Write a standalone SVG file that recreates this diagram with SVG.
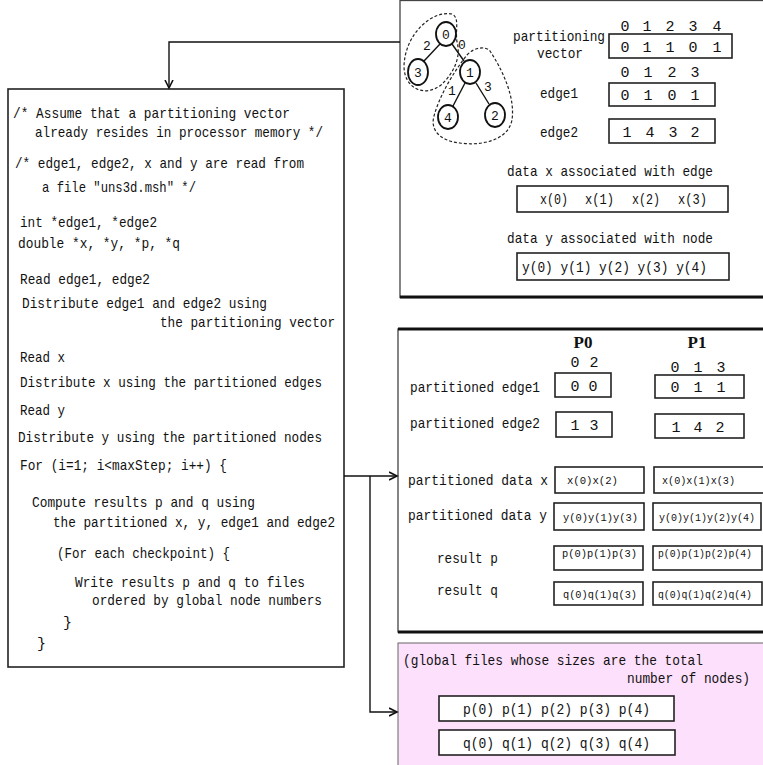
<svg xmlns="http://www.w3.org/2000/svg" width="763" height="765" viewBox="0 0 763 765">
<style>
.m{font-family:"Liberation Mono",monospace;font-size:15px;fill:#111}
.c{text-anchor:middle}
.e{text-anchor:end}
.s{font-family:"Liberation Mono",monospace;font-size:11px;fill:#111}
.t{font-family:"Liberation Mono",monospace;font-size:13px;fill:#111;text-anchor:middle}
.b{font-family:"Liberation Serif",serif;font-size:17px;font-weight:bold;fill:#111;text-anchor:middle}
.box{fill:#fff;stroke:#222;stroke-width:1.6}
.panel{fill:#fff;stroke:#444;stroke-width:1.3}
.thick{stroke:#111;stroke-width:3}
.node{fill:#fff;stroke:#111;stroke-width:1.8}
.dash{fill:none;stroke:#222;stroke-width:1.2;stroke-dasharray:3 2}
.wire{fill:none;stroke:#111;stroke-width:1.4}
</style>
<defs>
<marker id="arr" markerUnits="userSpaceOnUse" markerWidth="10" markerHeight="10" refX="8" refY="5" orient="auto">
<path d="M0,1 L8,5 L0,9" fill="none" stroke="#111" stroke-width="1.6"/>
</marker>
</defs>
<rect width="763" height="765" fill="#fff"/>

<g id="panel-vectors">
<rect class="panel" x="400" y="0.5" width="370" height="297"/>
<line class="thick" x1="400" y1="297" x2="763" y2="297"/>
<path class="dash" d="M452 14 C432 10,405 34,404 66 C404 88,424 98,441 85 C455 72,461 56,457 42 C455 30,460 18,452 14 Z"/>
<path class="dash" d="M467 55 C474 47,486 46,490 51 C505 74,515 99,512 120 C508 141,480 146,460 143 C440 141,430 130,434 116 C440 94,455 70,467 55 Z"/>
<line class="wire" x1="440" y1="44" x2="424" y2="61"/>
<line class="wire" x1="452" y1="44" x2="464" y2="61"/>
<line class="wire" x1="465" y1="83" x2="453" y2="106"/>
<line class="wire" x1="476" y1="83" x2="489" y2="104"/>
<ellipse class="node" cx="446" cy="34" rx="10" ry="12"/>
<ellipse class="node" cx="418" cy="72" rx="10" ry="13"/>
<ellipse class="node" cx="470" cy="72" rx="10" ry="12"/>
<ellipse class="node" cx="448" cy="117" rx="10" ry="12"/>
<ellipse class="node" cx="495" cy="115" rx="10" ry="12"/>
<text class="t" x="446" y="39">0</text>
<text class="t" x="418" y="77">3</text>
<text class="t" x="470" y="77">1</text>
<text class="t" x="448" y="122">4</text>
<text class="t" x="495" y="120">2</text>
<text class="t" x="427" y="50">2</text>
<text class="t" x="462" y="49">0</text>
<text class="t" x="452" y="95">1</text>
<text class="t" x="488" y="91">3</text>

<text class="m e" x="605" y="40.5" textLength="92" lengthAdjust="spacingAndGlyphs">partitioning</text>
<text class="m" x="537" y="57.5" textLength="46" lengthAdjust="spacingAndGlyphs">vector</text>
<text class="m c" x="625" y="31">0</text><text class="m c" x="647" y="31">1</text><text class="m c" x="670" y="31">2</text><text class="m c" x="693" y="31">3</text><text class="m c" x="717" y="31">4</text>
<rect class="box" x="609" y="34" width="123" height="24"/>
<text class="m c" x="625" y="52">0</text><text class="m c" x="647" y="52">1</text><text class="m c" x="670" y="52">1</text><text class="m c" x="693" y="52">0</text><text class="m c" x="717" y="52">1</text>

<text class="m c" x="625" y="77">0</text><text class="m c" x="648" y="77">1</text><text class="m c" x="672" y="77">2</text><text class="m c" x="695" y="77">3</text>
<text class="m" x="540" y="98" textLength="38" lengthAdjust="spacingAndGlyphs">edge1</text>
<rect class="box" x="609" y="83" width="106" height="23"/>
<text class="m c" x="625" y="100">0</text><text class="m c" x="648" y="100">1</text><text class="m c" x="672" y="100">0</text><text class="m c" x="695" y="100">1</text>

<text class="m" x="540" y="137" textLength="38" lengthAdjust="spacingAndGlyphs">edge2</text>
<rect class="box" x="609" y="119" width="106" height="24"/>
<text class="m c" x="627" y="137">1</text><text class="m c" x="650" y="137">4</text><text class="m c" x="673" y="137">3</text><text class="m c" x="695" y="137">2</text>

<text class="m e" x="713" y="176" textLength="206" lengthAdjust="spacingAndGlyphs">data x associated with edge</text>
<rect class="box" x="517" y="186" width="211" height="26"/>
<text class="m" x="540" y="204" textLength="28" lengthAdjust="spacingAndGlyphs">x(0)</text>
<text class="m" x="585" y="204" textLength="29" lengthAdjust="spacingAndGlyphs">x(1)</text>
<text class="m" x="632" y="204" textLength="28" lengthAdjust="spacingAndGlyphs">x(2)</text>
<text class="m" x="678" y="204" textLength="29" lengthAdjust="spacingAndGlyphs">x(3)</text>

<text class="m e" x="713" y="243" textLength="206" lengthAdjust="spacingAndGlyphs">data y associated with node</text>
<rect class="box" x="517" y="253" width="212" height="27"/>
<text class="m e" x="707" y="272" textLength="185" lengthAdjust="spacingAndGlyphs">y(0) y(1) y(2) y(3) y(4)</text>
</g>

<g id="panel-code">
<rect class="box" x="8" y="89" width="336" height="578"/>
<text class="m" x="13" y="118" textLength="277" lengthAdjust="spacingAndGlyphs">/* Assume that a partitioning vector</text>
<text class="m" x="35" y="137" textLength="288" lengthAdjust="spacingAndGlyphs">already resides in processor memory */</text>
<text class="m" x="15" y="168" textLength="289" lengthAdjust="spacingAndGlyphs">/* edge1, edge2, x and y are read from</text>
<text class="m" x="42" y="192" textLength="154" lengthAdjust="spacingAndGlyphs">a file "uns3d.msh" */</text>
<text class="m" x="20" y="227" textLength="137" lengthAdjust="spacingAndGlyphs">int *edge1, *edge2</text>
<text class="m" x="18" y="248" textLength="162" lengthAdjust="spacingAndGlyphs">double *x, *y, *p, *q</text>
<text class="m" x="20" y="284" textLength="130" lengthAdjust="spacingAndGlyphs">Read edge1, edge2</text>
<text class="m" x="22" y="308" textLength="245" lengthAdjust="spacingAndGlyphs">Distribute edge1 and edge2 using</text>
<text class="m" x="160" y="327" textLength="175" lengthAdjust="spacingAndGlyphs">the partitioning vector</text>
<text class="m" x="20" y="362" textLength="45" lengthAdjust="spacingAndGlyphs">Read x</text>
<text class="m" x="20" y="387" textLength="302" lengthAdjust="spacingAndGlyphs">Distribute x using the partitioned edges</text>
<text class="m" x="20" y="415" textLength="45" lengthAdjust="spacingAndGlyphs">Read y</text>
<text class="m" x="18" y="442" textLength="304" lengthAdjust="spacingAndGlyphs">Distribute y using the partitioned nodes</text>
<text class="m" x="20" y="470" textLength="207" lengthAdjust="spacingAndGlyphs">For (i=1; i&lt;maxStep; i++) {</text>
<text class="m" x="32" y="507" textLength="223" lengthAdjust="spacingAndGlyphs">Compute results p and q using</text>
<text class="m" x="53" y="527" textLength="282" lengthAdjust="spacingAndGlyphs" style="font-size:14.5px">the partitioned x, y, edge1 and edge2</text>
<text class="m" x="57" y="558" textLength="173" lengthAdjust="spacingAndGlyphs">(For each checkpoint) {</text>
<text class="m" x="75" y="587" textLength="230" lengthAdjust="spacingAndGlyphs">Write results p and q to files</text>
<text class="m" x="92" y="605" textLength="230" lengthAdjust="spacingAndGlyphs">ordered by global node numbers</text>
<text class="m" x="63" y="627">}</text>
<text class="m" x="37" y="648">}</text>
</g>

<g id="panel-partitioned">
<rect class="panel" x="398" y="329" width="372" height="303"/>
<line class="thick" x1="398" y1="329" x2="763" y2="329"/>
<line class="thick" x1="398" y1="632" x2="763" y2="632"/>
<text class="b" x="583" y="348">P0</text>
<text class="b" x="697" y="348">P1</text>
<text class="m c" x="575" y="367">0</text><text class="m c" x="594" y="367">2</text>
<text class="m c" x="675" y="372">0</text><text class="m c" x="698" y="372">1</text><text class="m c" x="721" y="372">3</text>
<text class="m e" x="540" y="392" textLength="130" lengthAdjust="spacingAndGlyphs">partitioned edge1</text>
<rect class="box" x="555" y="373" width="56" height="24"/>
<text class="m c" x="575" y="391">0</text><text class="m c" x="593" y="391">0</text>
<rect class="box" x="655" y="375" width="89" height="23"/>
<text class="m c" x="675" y="392">0</text><text class="m c" x="698" y="392">1</text><text class="m c" x="721" y="392">1</text>
<text class="m e" x="540" y="428" textLength="130" lengthAdjust="spacingAndGlyphs">partitioned edge2</text>
<rect class="box" x="556" y="412" width="56" height="25"/>
<text class="m c" x="575" y="430">1</text><text class="m c" x="594" y="430">3</text>
<rect class="box" x="655" y="414" width="89" height="24"/>
<text class="m c" x="676" y="432">1</text><text class="m c" x="698" y="432">4</text><text class="m c" x="720" y="432">2</text>

<text class="m e" x="548" y="485" textLength="140" lengthAdjust="spacingAndGlyphs">partitioned data x</text>
<rect class="box" x="555" y="467" width="89" height="26"/>
<text class="s" x="567" y="484" textLength="51" lengthAdjust="spacingAndGlyphs">x(0)x(2)</text>
<rect class="box" x="654" y="467" width="116" height="26"/>
<text class="s" x="662" y="484" textLength="73" lengthAdjust="spacingAndGlyphs">x(0)x(1)x(3)</text>

<text class="m e" x="547" y="520" textLength="139" lengthAdjust="spacingAndGlyphs" style="font-size:14.5px">partitioned data y</text>
<rect class="box" x="554" y="503" width="90" height="27"/>
<text class="s" x="563" y="521" textLength="75" lengthAdjust="spacingAndGlyphs">y(0)y(1)y(3)</text>
<rect class="box" x="653" y="503" width="108" height="27"/>
<text class="s" x="659" y="521" textLength="96" lengthAdjust="spacingAndGlyphs" style="font-size:10.5px">y(0)y(1)y(2)y(4)</text>

<text class="m" x="437" y="563" textLength="61" lengthAdjust="spacingAndGlyphs">result p</text>
<rect class="box" x="554" y="546" width="89" height="24"/>
<text class="s" x="562" y="557" textLength="75" lengthAdjust="spacingAndGlyphs">p(0)p(1)p(3)</text>
<rect class="box" x="653" y="546" width="109" height="24"/>
<text class="s" x="658" y="557" textLength="94" lengthAdjust="spacingAndGlyphs" style="font-size:10.5px">p(0)p(1)p(2)p(4)</text>

<text class="m" x="437" y="595" textLength="61" lengthAdjust="spacingAndGlyphs">result q</text>
<rect class="box" x="554" y="582" width="89" height="23"/>
<text class="s" x="563" y="598" textLength="74" lengthAdjust="spacingAndGlyphs">q(0)q(1)q(3)</text>
<rect class="box" x="653" y="582" width="109" height="23"/>
<text class="s" x="658" y="598" textLength="94" lengthAdjust="spacingAndGlyphs" style="font-size:10.5px">q(0)q(1)q(2)q(4)</text>
</g>

<g id="panel-global">
<rect x="398" y="643" width="372" height="130" fill="#fde0fb" stroke="#666" stroke-width="1"/>
<text class="m e" x="703" y="665" textLength="300" lengthAdjust="spacingAndGlyphs">(global files whose sizes are the total</text>
<text class="m" x="627" y="683" textLength="123" lengthAdjust="spacingAndGlyphs" style="font-size:14px">number of nodes)</text>
<rect class="box" x="439" y="696" width="235" height="25"/>
<text class="m" x="463" y="714" textLength="187" lengthAdjust="spacingAndGlyphs">p(0) p(1) p(2) p(3) p(4)</text>
<rect class="box" x="439" y="730" width="236" height="25"/>
<text class="m" x="463" y="748" textLength="187" lengthAdjust="spacingAndGlyphs">q(0) q(1) q(2) q(3) q(4)</text>
</g>

<g id="connectors">
<polyline class="wire" points="400,42 169,42 169,88" marker-end="url(#arr)"/>
<line class="wire" x1="344" y1="476" x2="397" y2="476" marker-end="url(#arr)"/>
<polyline class="wire" points="370,476 370,712 397,712" marker-end="url(#arr)"/>
</g>
</svg>
